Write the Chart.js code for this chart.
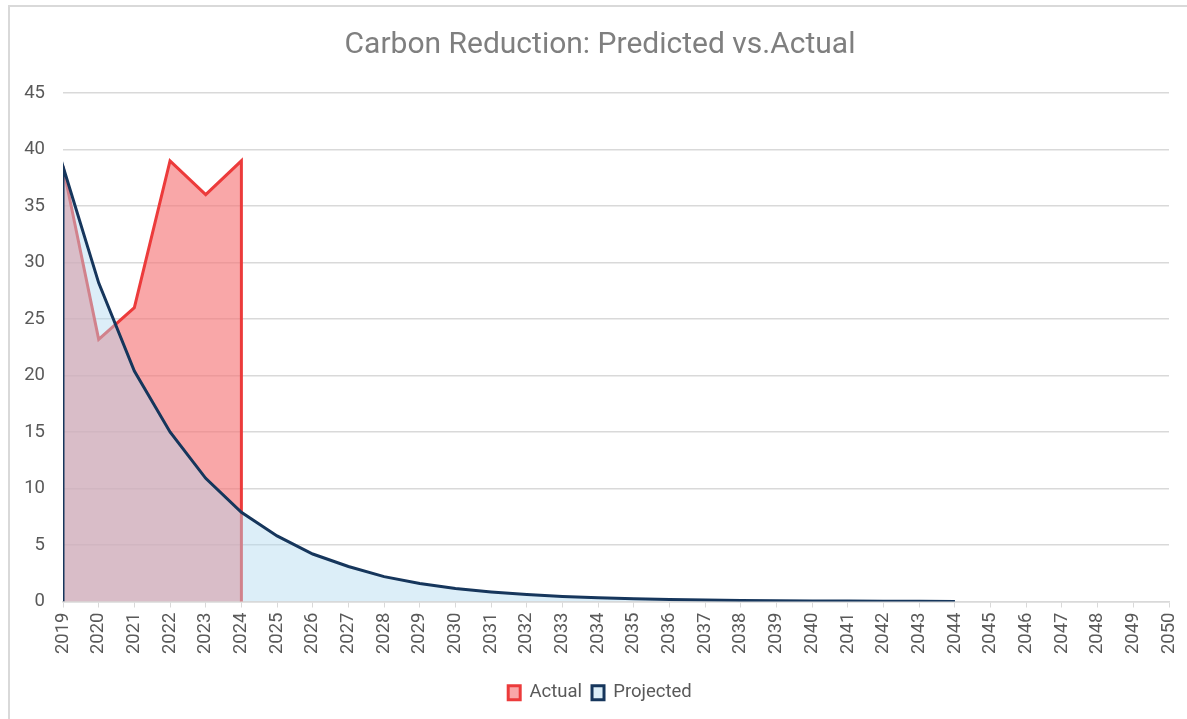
<!DOCTYPE html>
<html>
<head>
<meta charset="utf-8">
<script src="https://cdn.jsdelivr.net/npm/chart.js@4.4.0/dist/chart.umd.min.js"></script>
<style>
    html, body { margin: 0; padding: 0; background: #fff; overflow: hidden; }
    #frame {
        position: absolute; left: 8px; top: 5px; width: 1200px; height: 730px;
        border-left: 2px solid #d9d9d9; border-top: 2px solid #d9d9d9;
    }
    #wrap { position: absolute; left: 0; top: 0; width: 1200px; height: 719px; }
</style>
</head>
<body>
<div id="frame"></div>
<div id="wrap"><canvas id="carbonChart"></canvas></div>
<script>
// Data
const actualYears = [2019, 2020, 2021, 2022, 2023, 2024, 2024];
const actualValues = [38.5, 23.2, 26.0, 39.0, 36.0, 39.0, 0];

const projectedYears = [2019, 2019, 2020, 2021, 2022, 2023, 2024, 2025, 2026, 2027, 2028, 2029, 2030,
    2031, 2032, 2033, 2034, 2035, 2036, 2037, 2038, 2039, 2040, 2041, 2042, 2043, 2044];
const projectedValues = [0, 38.5, 28.2, 20.4, 15.0, 10.9, 7.9, 5.8, 4.2, 3.1, 2.2, 1.6, 1.15,
    0.85, 0.62, 0.45, 0.33, 0.24, 0.17, 0.13, 0.09, 0.07, 0.05, 0.04, 0.03, 0.02, 0.0];

const yearMin = 2019;
const yearMax = 2050;

const toPoints = (xs, ys) => xs.map((x, i) => ({ x: x, y: ys[i] }));

const FONT = "Roboto, 'Noto Sans', sans-serif";

new Chart(document.getElementById('carbonChart'), {
    type: 'line',
    data: {
        datasets: [
            {
                label: 'Actual',
                data: toPoints(actualYears, actualValues),
                borderColor: '#ec3b3b',
                backgroundColor: 'rgba(246, 120, 122, 0.65)',
                borderWidth: 3,
                fill: 'origin',
                pointRadius: 0,
                tension: 0,
                order: 2
            },
            {
                label: 'Projected',
                data: toPoints(projectedYears, projectedValues),
                borderColor: '#16365c',
                backgroundColor: 'rgba(178, 218, 240, 0.45)',
                borderWidth: 3,
                fill: 'origin',
                pointRadius: 0,
                tension: 0,
                order: 1
            }
        ]
    },
    options: {
        responsive: true,
        maintainAspectRatio: false,
        animation: false,
        layout: { padding: { left: 0, right: 0, top: 0, bottom: 7 } },
        plugins: {
            tooltip: { enabled: false },
            title: {
                display: true,
                text: 'Carbon Reduction: Predicted vs.Actual',
                color: '#7f7f7f',
                font: { family: FONT, size: 30, weight: 'normal' },
                padding: { top: 27, bottom: 30 }
            },
            legend: {
                position: 'bottom',
                labels: {
                    color: '#595959',
                    font: { family: FONT, size: 18.5 },
                    boxWidth: 12,
                    boxHeight: 14,
                    padding: 10,
                    sort: (a, b) => a.datasetIndex - b.datasetIndex
                }
            }
        },
        scales: {
            x: {
                type: 'linear',
                min: yearMin,
                max: yearMax,
                afterFit: (axis) => { axis.height = 72; },
                ticks: {
                    stepSize: 1,
                    autoSkip: false,
                    minRotation: 90,
                    maxRotation: 90,
                    padding: 5,
                    color: '#595959',
                    font: { family: FONT, size: 18.5 },
                    callback: (v) => String(v)
                },
                grid: {
                    drawOnChartArea: false,
                    drawTicks: true,
                    tickLength: 6,
                    color: '#d9d9d9'
                },
                border: { display: true, color: '#d9d9d9', width: 1.5 }
            },
            y: {
                min: 0,
                max: 45,
                afterFit: (axis) => { axis.width = 63; },
                ticks: {
                    stepSize: 5,
                    padding: 18,
                    color: '#595959',
                    font: { family: FONT, size: 18.5 }
                },
                grid: {
                    color: '#d9d9d9',
                    lineWidth: 1.5,
                    drawTicks: false
                },
                border: { display: false }
            },
            // empty right-hand axis: only reserves the gap to the right of the plot
            spacer: {
                position: 'right',
                min: 0,
                max: 45,
                afterFit: (axis) => { axis.width = 31; },
                ticks: { display: false },
                grid: { display: false, drawTicks: false },
                border: { display: false }
            }
        }
    }
});
</script>
</body>
</html>
